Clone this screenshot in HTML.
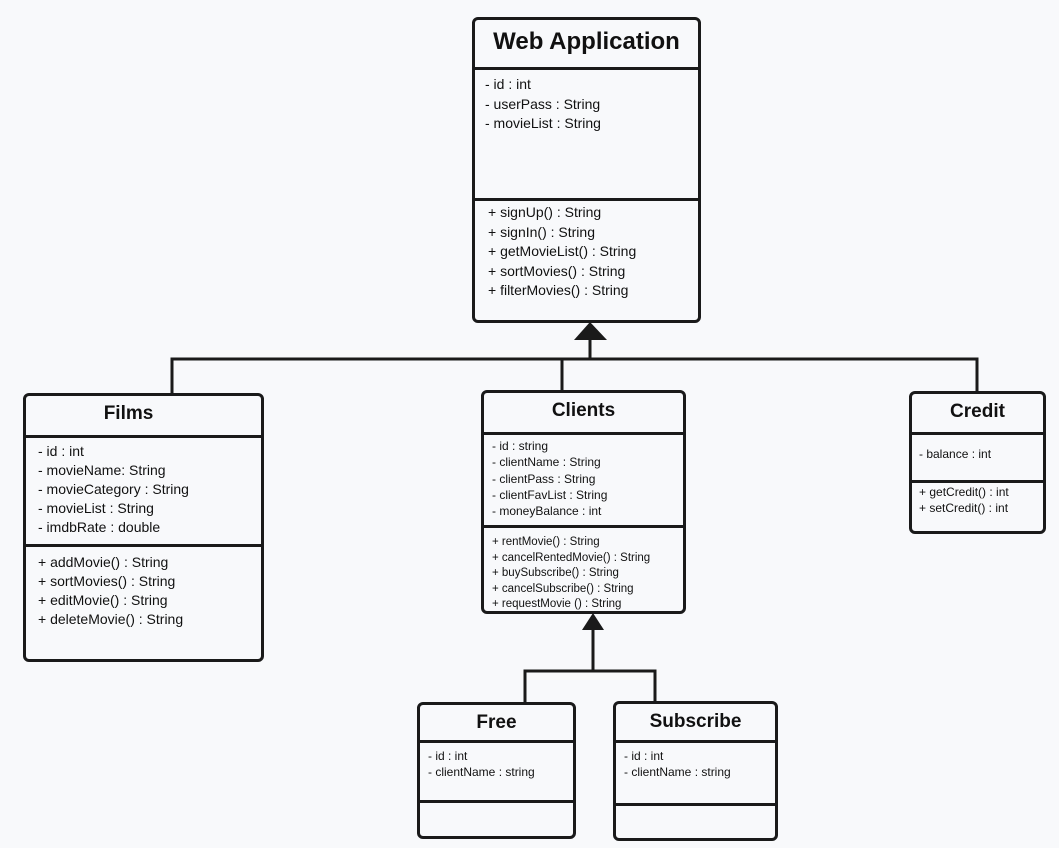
<!DOCTYPE html>
<html><head><style>
body{margin:0;width:1059px;height:848px;background:#f8f9fb;position:relative;overflow:hidden;font-family:"Liberation Sans",sans-serif;color:#111}
.b{position:absolute;border:3px solid #1a1a1a;border-radius:6px;background:#f8f9fb;box-sizing:border-box}
.t{position:absolute;left:0;right:0;text-align:center;font-weight:bold}
.h{position:absolute;left:0;right:0;border-top:3px solid #1a1a1a}
.m{position:absolute;white-space:pre;line-height:19.5px}
</style></head><body>
<svg width="1059" height="848" style="position:absolute;left:0;top:0">
<g stroke="#1a1a1a" stroke-width="3" fill="none">
<path d="M172 393V359H977V391M562 390V359M590 359V336"/>
<path d="M593 630V671M525 702V671H655V701"/>
</g>
<polygon points="590,322 574,340 607,340" fill="#1a1a1a"/>
<polygon points="593,613 582,630 604,630" fill="#1a1a1a"/>
</svg>

<div class="b" style="left:472px;top:17px;width:229px;height:306px">
<div class="t" style="top:8px;font-size:24px">Web Application</div>
<div class="h" style="top:47px"></div>
<div class="m" style="left:10px;top:55px;font-size:14px">- id : int
- userPass : String
- movieList : String</div>
<div class="h" style="top:178px"></div>
<div class="m" style="left:13px;top:183px;font-size:14px">+ signUp() : String
+ signIn() : String
+ getMovieList() : String
+ sortMovies() : String
+ filterMovies() : String</div>
</div>

<div class="b" style="left:23px;top:393px;width:241px;height:269px">
<div class="t" style="top:7px;font-size:19px;left:-30px">Films</div>
<div class="h" style="top:39px"></div>
<div class="m" style="left:12px;top:46px;font-size:14px;line-height:19px">- id : int
- movieName: String
- movieCategory : String
- movieList : String
- imdbRate : double</div>
<div class="h" style="top:148px"></div>
<div class="m" style="left:12px;top:157px;font-size:14px;line-height:19px">+ addMovie() : String
+ sortMovies() : String
+ editMovie() : String
+ deleteMovie() : String</div>
</div>

<div class="b" style="left:481px;top:390px;width:205px;height:224px">
<div class="t" style="top:7px;font-size:19px">Clients</div>
<div class="h" style="top:39px"></div>
<div class="m" style="left:8px;top:45px;font-size:12px;line-height:16.3px">- id : string
- clientName : String
- clientPass : String
- clientFavList : String
- moneyBalance : int</div>
<div class="h" style="top:132px"></div>
<div class="m" style="left:8px;top:142px;font-size:11.5px;line-height:15.6px">+ rentMovie() : String
+ cancelRentedMovie() : String
+ buySubscribe() : String
+ cancelSubscribe() : String
+ requestMovie () : String</div>
</div>

<div class="b" style="left:909px;top:391px;width:137px;height:143px">
<div class="t" style="top:7px;font-size:19px">Credit</div>
<div class="h" style="top:38px"></div>
<div class="m" style="left:7px;top:51px;font-size:12px">- balance : int</div>
<div class="h" style="top:86px"></div>
<div class="m" style="left:7px;top:90px;font-size:12px;line-height:16px">+ getCredit() : int
+ setCredit() : int</div>
</div>

<div class="b" style="left:417px;top:702px;width:159px;height:137px">
<div class="t" style="top:7px;font-size:19px">Free</div>
<div class="h" style="top:35px"></div>
<div class="m" style="left:8px;top:43px;font-size:12px;line-height:16px">- id : int
- clientName : string</div>
<div class="h" style="top:95px"></div>
</div>

<div class="b" style="left:613px;top:701px;width:165px;height:140px">
<div class="t" style="top:7px;font-size:19px">Subscribe</div>
<div class="h" style="top:36px"></div>
<div class="m" style="left:8px;top:44px;font-size:12px;line-height:16px">- id : int
- clientName : string</div>
<div class="h" style="top:99px"></div>
</div>
</body></html>
